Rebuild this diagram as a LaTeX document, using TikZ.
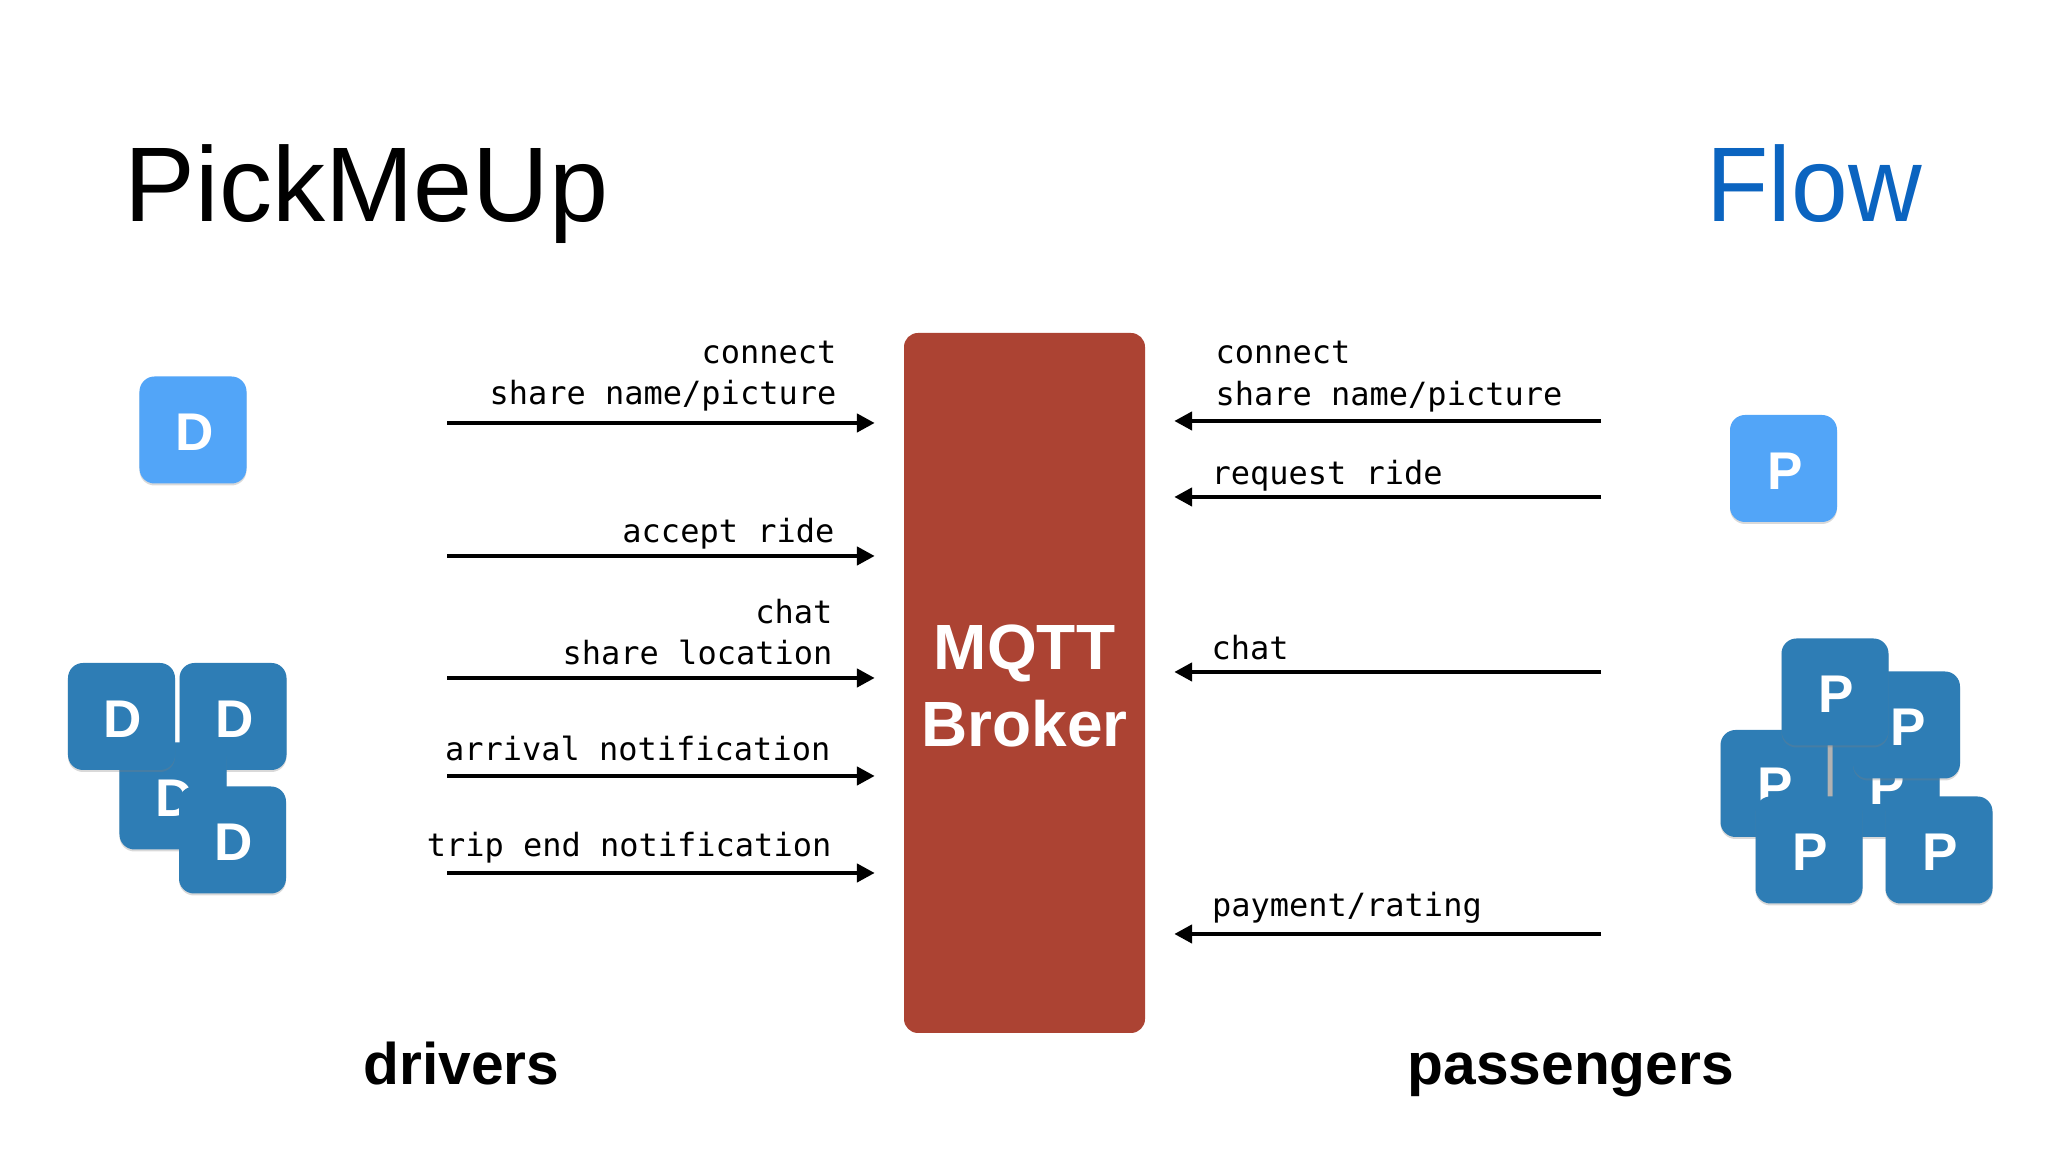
\documentclass[tikz,border=0pt]{standalone}
\usepackage{fontspec}
\setmainfont{Liberation Sans}
\setmonofont{DejaVu Sans Mono}
\newfontfamily\flowfont[FakeStretch=0.96]{Liberation Sans}
\usetikzlibrary{arrows.meta,shadows}
\definecolor{tilelight}{HTML}{52A5F8}
\definecolor{tiledark}{HTML}{2E7DB5}
\definecolor{brokerred}{HTML}{AC4333}
\definecolor{flowblue}{HTML}{0B64C0}
\tikzset{
	tile/.style={rectangle, rounded corners=0.15cm, minimum size=1.07cm, inner sep=0pt, text=white,
		text height=0.42cm, font=\fontsize{15.1}{18}\selectfont\bfseries,
		execute at begin node={\hspace*{0.03cm}},
		drop shadow={shadow xshift=0cm, shadow yshift=-0.02cm, opacity=0.3}},
	lighttile/.style={tile, fill=tilelight},
	darktile/.style={tile, fill=tiledark},
	broker/.style={rectangle, rounded corners=0.14cm, fill=brokerred, minimum width=2.41cm, minimum height=7cm,
		inner sep=0pt, text=white, align=center, font=\fontsize{18.2}{21.9}\selectfont\bfseries},
	heading/.style={anchor=base west, inner sep=0pt, font=\fontsize{30.2}{36}\selectfont},
	side/.style={anchor=base west, inner sep=0pt, font=\fontsize{16.7}{20}\selectfont\bfseries},
	msgleft/.style={anchor=base east, inner sep=0pt, font=\fontsize{9.1}{11}\selectfont\ttfamily},
	msgright/.style={anchor=base west, inner sep=0pt, font=\fontsize{9.1}{11}\selectfont\ttfamily},
	msg/.style={line width=0.045cm, -{Triangle[length=0.18cm,width=0.18cm]}, shorten >=0.285cm}
}
\begin{document}
\begin{tikzpicture}
	\useasboundingbox (0, 0) rectangle (20.48, 11.52);

	\node[heading] (title) at (1.24, 9.305) {PickMeUp};
	\node[heading, text=flowblue] (flow) at (17.06, 9.305) {\flowfont Flow};

	\node[lighttile] (dsingle) at (1.93, 7.22) {D};
	\node[darktile] (dtwo) at (2.33, 4.355) {D};
	\node[darktile] (dthree) at (1.73, 3.56) {D};
	\node[darktile] (done) at (1.215, 4.355) {D};
	\node[darktile] (dfour) at (2.325, 3.12) {D};

	\node[lighttile] (psingle) at (17.835, 6.835) {P};
	\fill[black!30] (18.26, 3.5) rectangle (18.34, 4.1);
	\node[darktile] (pleft) at (17.74, 3.685) {P};
	\node[darktile] (pmid) at (18.86, 3.685) {P};
	\node[darktile] (pright) at (19.065, 4.27) {P};
	\node[darktile] (ptop) at (18.35, 4.60) {P};
	\node[darktile] (plow) at (18.09, 3.02) {P};
	\node[darktile] (pcorner) at (19.39, 3.02) {P};

	\node[broker] (mqtt) at (10.245, 4.69) {\rule{0pt}{0.51cm}MQTT\\Broker};

	\node[side] (drivers) at (3.63, 0.675) {drivers};
	\node[side] (passengers) at (14.07, 0.675) {passengers};

	\node[msgleft] (dconnect) at (8.37, 7.888) {connect};
	\node[msgleft] (dshare) at (8.37, 7.478) {share name/picture};
	\node[msgleft] (daccept) at (8.35, 6.098) {accept ride};
	\node[msgleft] (dchat) at (8.33, 5.288) {chat};
	\node[msgleft] (dlocation) at (8.33, 4.878) {share location};
	\node[msgleft] (darrival) at (8.31, 3.918) {arrival notification};
	\node[msgleft] (dtrip) at (8.32, 2.958) {trip end notification};

	\node[msgright] (pconnect) at (12.15, 7.888) {connect};
	\node[msgright] (pshare) at (12.15, 7.468) {share name/picture};
	\node[msgright] (prequest) at (12.11, 6.678) {request ride};
	\node[msgright] (pchat) at (12.11, 4.928) {chat};
	\node[msgright] (ppay) at (12.115, 2.358) {payment/rating};

	\coordinate (dtailone) at (4.47, 7.29);
	\coordinate (dtailtwo) at (4.47, 5.96);
	\coordinate (dtailthree) at (4.47, 4.74);
	\coordinate (dtailfour) at (4.47, 3.76);
	\coordinate (dtailfive) at (4.47, 2.79);

	\coordinate (ptailone) at (16.01, 7.31);
	\coordinate (ptailtwo) at (16.01, 6.55);
	\coordinate (ptailthree) at (16.01, 4.80);
	\coordinate (ptailfour) at (16.01, 2.18);

	\draw[msg] (dtailone) -- (dtailone -| mqtt.west);
	\draw[msg] (dtailtwo) -- (dtailtwo -| mqtt.west);
	\draw[msg] (dtailthree) -- (dtailthree -| mqtt.west);
	\draw[msg] (dtailfour) -- (dtailfour -| mqtt.west);
	\draw[msg] (dtailfive) -- (dtailfive -| mqtt.west);

	\draw[msg] (ptailone) -- (ptailone -| mqtt.east);
	\draw[msg] (ptailtwo) -- (ptailtwo -| mqtt.east);
	\draw[msg] (ptailthree) -- (ptailthree -| mqtt.east);
	\draw[msg] (ptailfour) -- (ptailfour -| mqtt.east);
\end{tikzpicture}
\end{document}
